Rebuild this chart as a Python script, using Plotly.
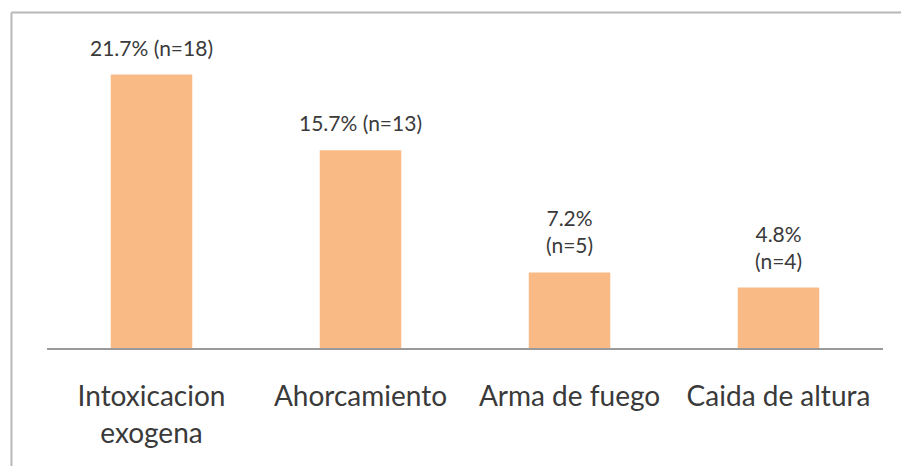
import plotly.graph_objects as go

categories = ["Intoxicacion<br>exogena", "Ahorcamiento", "Arma de fuego", "Caida de altura"]
values = [21.7, 15.7, 6.0, 4.8]
labels = ["21.7% (n=18)", "15.7% (n=13)", "7.2%<br>(n=5)", "4.8%<br>(n=4)"]

bar_color = "#FABA85"
text_color = "#3a3a3a"
font_family = "Lato, 'Open Sans', sans-serif"

fig = go.Figure()
fig.add_trace(go.Bar(
    x=categories, y=values,
    marker=dict(color=bar_color, line=dict(width=0)),
    width=0.39,
    hoverinfo="skip",
))

for c, v, t in zip(categories, values, labels):
    fig.add_annotation(
        x=c, y=v, text=t, showarrow=False,
        yanchor="bottom", yshift=13,
        font=dict(family=font_family, size=21, color=text_color),
    )

# outer border: only its top and left edges are visible in the reference
border = dict(color="#b8b8b8", width=2)
fig.add_shape(type="line", xref="paper", yref="paper",
              x0=-0.0425, x1=1.3, y0=1.065, y1=1.065, line=border, layer="below")
fig.add_shape(type="line", xref="paper", yref="paper",
              x0=-0.0425, x1=-0.0425, y0=-0.6, y1=1.065, line=border, layer="below")

fig.update_layout(
    width=893, height=458,
    margin=dict(l=39, r=18, t=25, b=118),
    paper_bgcolor="white", plot_bgcolor="white",
    showlegend=False,
    font=dict(family=font_family, color=text_color),
)
fig.update_xaxes(
    showline=True, linecolor="#9a9a9a", linewidth=1.5,
    showgrid=False, ticks="", ticklabelstandoff=23,
    tickfont=dict(family=font_family, size=28, color=text_color),
)
fig.update_yaxes(visible=False, range=[0, 25])

fig.write_html("out.html")
